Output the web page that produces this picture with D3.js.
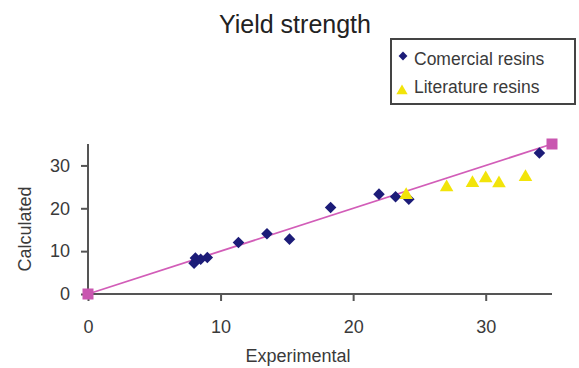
<!DOCTYPE html>
<html>
<head>
<meta charset="utf-8">
<script src="https://cdn.jsdelivr.net/npm/d3@7"></script>
<style>
  body { margin: 0; background: #fff; }
  svg { display: block; font-family: "Liberation Sans", Arial, sans-serif; }
</style>
</head>
<body>
<svg id="chart" width="579" height="368"></svg>
<script>
// Commercial resins: experimental vs calculated yield strength
const commercialX = [8.0, 8.1, 8.5, 9.0, 11.35, 13.5, 15.2, 18.3, 21.95, 23.2, 24.2, 34.05];
const commercialY = [7.2, 8.4, 8.1, 8.5, 12.0, 14.05, 12.8, 20.2, 23.3, 22.7, 22.1, 32.9];

// Literature resins
const literatureX = [24.0, 27.05, 29.0, 30.0, 31.0, 33.0];
const literatureY = [23.1, 24.9, 25.9, 27.0, 25.8, 27.3];

// Parity line (calculated = experimental)
const parityX = [0, 35];
const parityY = [0, 35];

const xTicks = [0, 10, 20, 30];
const yTicks = [0, 10, 20, 30];
const legendLabels = ["Comercial resins", "Literature resins"];

const svg = d3.select("#chart");
const x = d3.scaleLinear().domain([0, 35]).range([88, 552]);
const y = d3.scaleLinear().domain([0, 35]).range([294, 144]);

const axisColor = "#555";
const textColor = "#3a3a3a";

// Title
svg.append("text")
  .attr("x", 295).attr("y", 33)
  .attr("text-anchor", "middle")
  .attr("font-size", 25)
  .attr("fill", "#222")
  .text("Yield strength");

// Axes
const xAxis = svg.append("g")
  .attr("transform", `translate(0,${y(0)})`)
  .call(d3.axisBottom(x).tickValues(xTicks).tickSize(7).tickPadding(19).tickFormat(d3.format("d")));
const yAxis = svg.append("g")
  .attr("transform", `translate(${x(0)},0)`)
  .call(d3.axisLeft(y).tickValues(yTicks).tickSize(7).tickPadding(11).tickFormat(d3.format("d")));

[xAxis, yAxis].forEach(g => {
  g.select(".domain").attr("stroke", axisColor).attr("stroke-width", 2);
  g.selectAll(".tick line").attr("stroke", axisColor).attr("stroke-width", 2);
  g.selectAll(".tick text").attr("fill", textColor).attr("font-size", 18)
    .attr("font-family", "Liberation Sans, Arial, sans-serif");
});
xAxis.select(".domain").attr("d", `M${x(0)},0H${x(35)}`);
yAxis.select(".domain").attr("d", `M0,${y(0)}V${y(35)}`);

// Axis titles
svg.append("text")
  .attr("x", 298).attr("y", 362)
  .attr("text-anchor", "middle")
  .attr("font-size", 18)
  .attr("fill", textColor)
  .text("Experimental");
svg.append("text")
  .attr("transform", "translate(31,229) rotate(-90)")
  .attr("text-anchor", "middle")
  .attr("font-size", 18)
  .attr("fill", textColor)
  .text("Calculated");

// Parity line with square end markers
const parity = parityX.map((v, i) => [v, parityY[i]]);
svg.append("path")
  .datum(parity)
  .attr("fill", "none")
  .attr("stroke", "#d25db8")
  .attr("stroke-width", 1.8)
  .attr("d", d3.line().x(d => x(d[0])).y(d => y(d[1])));
svg.selectAll(".sq")
  .data(parity)
  .join("rect")
  .attr("x", d => x(d[0]) - 5.5)
  .attr("y", d => y(d[1]) - 5.5)
  .attr("width", 11).attr("height", 11)
  .attr("fill", "#c957b0");

// Commercial resins: navy diamonds
const diamond = d3.symbol().type(d3.symbolDiamond2).size(85);
svg.selectAll(".com")
  .data(commercialX.map((v, i) => [v, commercialY[i]]))
  .join("path")
  .attr("d", diamond)
  .attr("transform", d => `translate(${x(d[0])},${y(d[1])})`)
  .attr("fill", "#1c1c78");

// Literature resins: yellow triangles
const triangle = d3.symbol().type(d3.symbolTriangle).size(80);
svg.selectAll(".lit")
  .data(literatureX.map((v, i) => [v, literatureY[i]]))
  .join("path")
  .attr("d", triangle)
  .attr("transform", d => `translate(${x(d[0])},${y(d[1])})`)
  .attr("fill", "#f2e40a");

// Legend
const legend = svg.append("g");
legend.append("rect")
  .attr("x", 391).attr("y", 39)
  .attr("width", 184).attr("height", 65)
  .attr("fill", "#fff")
  .attr("stroke", "#444")
  .attr("stroke-width", 2);
legend.append("path")
  .attr("d", d3.symbol().type(d3.symbolDiamond2).size(50))
  .attr("transform", "translate(403,56)")
  .attr("fill", "#1c1c78");
legend.append("path")
  .attr("d", d3.symbol().type(d3.symbolTriangle).size(55))
  .attr("transform", "translate(402,91)")
  .attr("fill", "#f2e40a");
legend.selectAll(".lt")
  .data(legendLabels)
  .join("text")
  .attr("x", 414)
  .attr("y", (d, i) => 65 + i * 28)
  .attr("font-size", 17.5)
  .attr("fill", textColor)
  .text(d => d);
</script>
</body>
</html>
